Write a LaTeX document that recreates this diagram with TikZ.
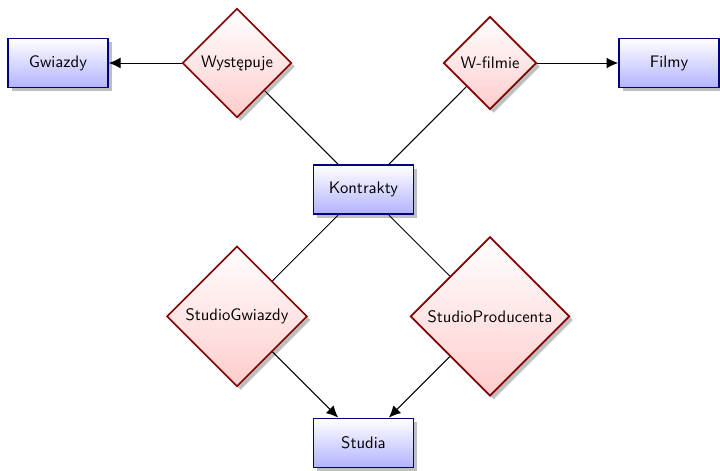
\documentclass[tikz,border=0pt]{standalone}
\usetikzlibrary{shapes.geometric,shadows,arrows.meta}
\begin{document}
\begin{tikzpicture}[x=1pt,y=1pt,
  font=\sffamily,
  entity/.style={rectangle,draw=blue!50!black,line width=1pt,top color=white,bottom color=blue!30,
    minimum width=60pt,minimum height=29.5pt,drop shadow},
  relation/.style={diamond,aspect=1,draw=red!50!black,line width=1pt,top color=white,bottom color=red!20,
    drop shadow},
  link/.style={draw=black,line width=0.6pt},
  arr/.style={link,-{Latex[length=7pt,width=6.5pt]}}]
\useasboundingbox (0,0) rectangle (432,-282);
\node[entity] (gw) at (34.8,-37.8) {Gwiazdy};
\node[relation] (wy) at (142.2,-37.8) {Występuje};
\node[relation] (wf) at (294,-37.8) {W-filmie};
\node[entity] (fi) at (401.4,-37.8) {Filmy};
\node[entity] (ko) at (218.1,-113.8) {Kontrakty};
\node[relation] (sg) at (142.2,-189.8) {StudioGwiazdy};
\node[relation] (sp) at (294,-189.8) {StudioProducenta};
\node[entity] (st) at (218.1,-265.8) {Studia};
\draw[arr] (wy) -- (gw);
\draw[arr] (wf) -- (fi);
\draw[link] (wy) -- (ko);
\draw[link] (wf) -- (ko);
\draw[link] (ko) -- (sg);
\draw[link] (ko) -- (sp);
\draw[arr] (sg) -- (st);
\draw[arr] (sp) -- (st);
\end{tikzpicture}
\end{document}
